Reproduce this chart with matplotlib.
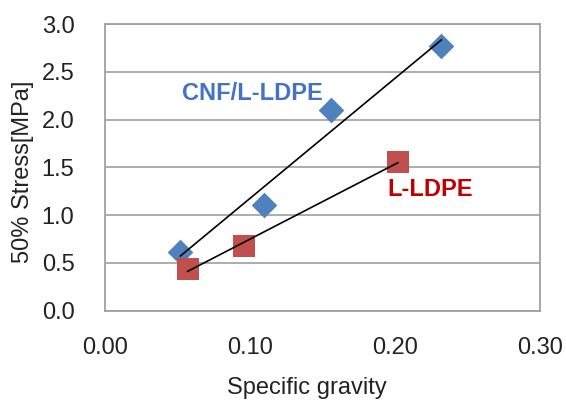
import numpy as np
import matplotlib
matplotlib.use("Agg")
import matplotlib.pyplot as plt

cnf_x = [0.052, 0.110, 0.156, 0.232]
cnf_y = [0.61, 1.11, 2.10, 2.77]
ldpe_x = [0.057, 0.096, 0.202]
ldpe_y = [0.44, 0.68, 1.56]
xticks = [0.00, 0.10, 0.20, 0.30]
yticks = [0.0, 0.5, 1.0, 1.5, 2.0, 2.5, 3.0]

FONT = "Liberation Sans"
FS = 17

fig = plt.figure(figsize=(5.66, 4.03), dpi=100)
ax = fig.add_axes([0.1855, 0.229, 0.7685, 0.711])
ax.set_xlim(0, 0.30)
ax.set_ylim(0, 3.0)
ax.set_yticks(yticks)
ax.set_xticks(xticks)
ax.set_xticklabels([f"{v:.2f}" for v in xticks])
ax.set_yticklabels([f"{v:.1f}" for v in yticks])
ax.grid(axis="y", color="#A6A6A6", linewidth=1.3)
ax.set_axisbelow(True)
for s in ax.spines.values():
    s.set_color("#A0A0A0")
    s.set_linewidth(1.3)
ax.tick_params(length=0, labelsize=FS, colors="#222222")
ax.tick_params(axis="y", pad=22)
ax.tick_params(axis="x", pad=19)
for lbl in ax.get_xticklabels() + ax.get_yticklabels():
    lbl.set_family(FONT)

ax.scatter(cnf_x, cnf_y, marker="D", s=170, color="#4F81BD", zorder=3, linewidths=0)
ax.scatter(ldpe_x, ldpe_y, marker="s", s=270, color="#C0504D", zorder=3, linewidths=0)

for xs, ys in ((cnf_x, cnf_y), (ldpe_x, ldpe_y)):
    p = np.polyfit(xs, ys, 1)
    xx = np.array([min(xs), max(xs)])
    ax.plot(xx, np.polyval(p, xx), color="black", linewidth=1.2, zorder=4)

ax.text(0.0531, 2.277, "CNF/L-LDPE", color="#4472C4", fontsize=FS, fontweight="bold",
        family=FONT, va="center", ha="left")
ax.text(0.195, 1.273, "L-LDPE", color="#C00000", fontsize=FS, fontweight="bold",
        family=FONT, va="center", ha="left")

ax.set_xlabel("Specific gravity", fontsize=FS, family=FONT, color="#222222", va="center")
ax.xaxis.set_label_coords(0.464, -0.269)
ax.set_ylabel("50% Stress[MPa]", fontsize=FS, family=FONT, color="#222222", va="center")
ax.yaxis.set_label_coords(-0.1885, 0.484)

fig.savefig("out.png", dpi=100)
